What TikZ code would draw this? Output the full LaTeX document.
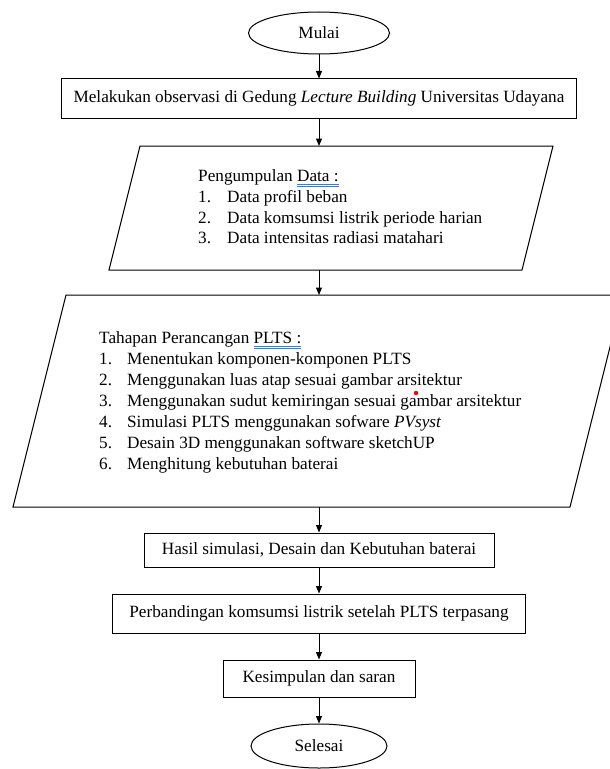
\documentclass[tikz,border=0pt]{standalone}
\usepackage{fontspec}
\setmainfont{Liberation Serif}
\usepackage{xcolor}
\usetikzlibrary{shapes.geometric,arrows.meta}

\definecolor{gramblue}{RGB}{72,118,205}
\newsavebox\gramsbox
\newcommand{\gramline}[1]{\sbox\gramsbox{#1}\rlap{\color{gramblue}\rule[-3bp]{\wd\gramsbox}{0.7bp}\hspace{-\wd\gramsbox}\rule[-5bp]{\wd\gramsbox}{0.7bp}}\usebox\gramsbox}

\begin{document}
\begin{tikzpicture}[x=1bp,y=-1bp,
  every node/.style={font=\fontsize{17.2bp}{20.8bp}\selectfont},
  terminal/.style={shape=ellipse,draw=black,line width=1bp,inner sep=0pt},
  process/.style={shape=rectangle,draw=black,line width=1bp,inner sep=0pt},
  io/.style={draw=black,line width=1bp},
  flow/.style={line width=1bp,-{Triangle[length=7.5bp,width=6bp]}}]

\useasboundingbox (0,0) rectangle (610,769);
\clip (0,0) rectangle (610,769);

\node[terminal,minimum width=141bp,minimum height=42bp] (start) at (319,33) {Mulai};
\node[process,minimum width=515bp,minimum height=39bp] (obs) at (319,98.5) {Melakukan observasi di Gedung \textit{Lecture Building} Universitas Udayana};

% input data
\draw[io] (140,146) -- (553,146) -- (522,270) -- (109,270) -- cycle;
\coordinate (datain) at (319,146);
\coordinate (dataout) at (319,270);
\node[anchor=base west,inner sep=0pt] (datalist) at (198,181.5) {%
  \begin{tabular}[t]{@{}p{29bp}@{}l@{}}
  \multicolumn{2}{@{}l@{}}{Pengumpulan \gramline{Data :}}\\
  1. & Data profil beban\\
  2. & Data komsumsi listrik periode harian\\
  3. & Data intensitas radiasi matahari
  \end{tabular}};

% tahapan perancangan
\draw[io] (66,295) -- (623,295) -- (570,507) -- (13,507) -- cycle;
\coordinate (pltsin) at (319,295);
\coordinate (pltsout) at (319,507);
\node[anchor=base west,inner sep=0pt,font=\fontsize{17.2bp}{21bp}\selectfont] (pltslist) at (99,343.5) {%
  \begin{tabular}[t]{@{}p{28bp}@{}l@{}}
  \multicolumn{2}{@{}l@{}}{Tahapan Perancangan \gramline{PLTS :}}\\
  1. & Menentukan komponen-komponen PLTS\\
  2. & Menggunakan luas atap sesuai gambar arsitektur\\
  3. & Menggunakan sudut kemiringan sesuai gambar arsitektur\\
  4. & Simulasi PLTS menggunakan sofware \textit{PVsyst}\\
  5. & Desain 3D menggunakan software sketchUP\\
  6. & Menghitung kebutuhan baterai
  \end{tabular}};
\fill[red] (416,393) circle (2.2bp);

\node[process,minimum width=350bp,minimum height=34bp] (hasil) at (319,550) {Hasil simulasi, Desain dan Kebutuhan baterai};
\node[process,minimum width=412bp,minimum height=39bp] (banding) at (319,613.5) {Perbandingan komsumsi listrik setelah PLTS terpasang};
\node[process,minimum width=192bp,minimum height=37bp] (simpul) at (319,678.5) {Kesimpulan dan saran};
\node[terminal,minimum width=136bp,minimum height=44bp] (finish) at (319,746) {Selesai};

\path[flow] (start) edge (obs);
\path[flow] (obs) edge (datain);
\path[flow] (dataout) edge (pltsin);
\path[flow] (pltsout) edge (hasil);
\path[flow] (hasil) edge (banding);
\path[flow] (banding) edge (simpul);
\path[flow] (simpul) edge (finish);

\end{tikzpicture}
\end{document}
